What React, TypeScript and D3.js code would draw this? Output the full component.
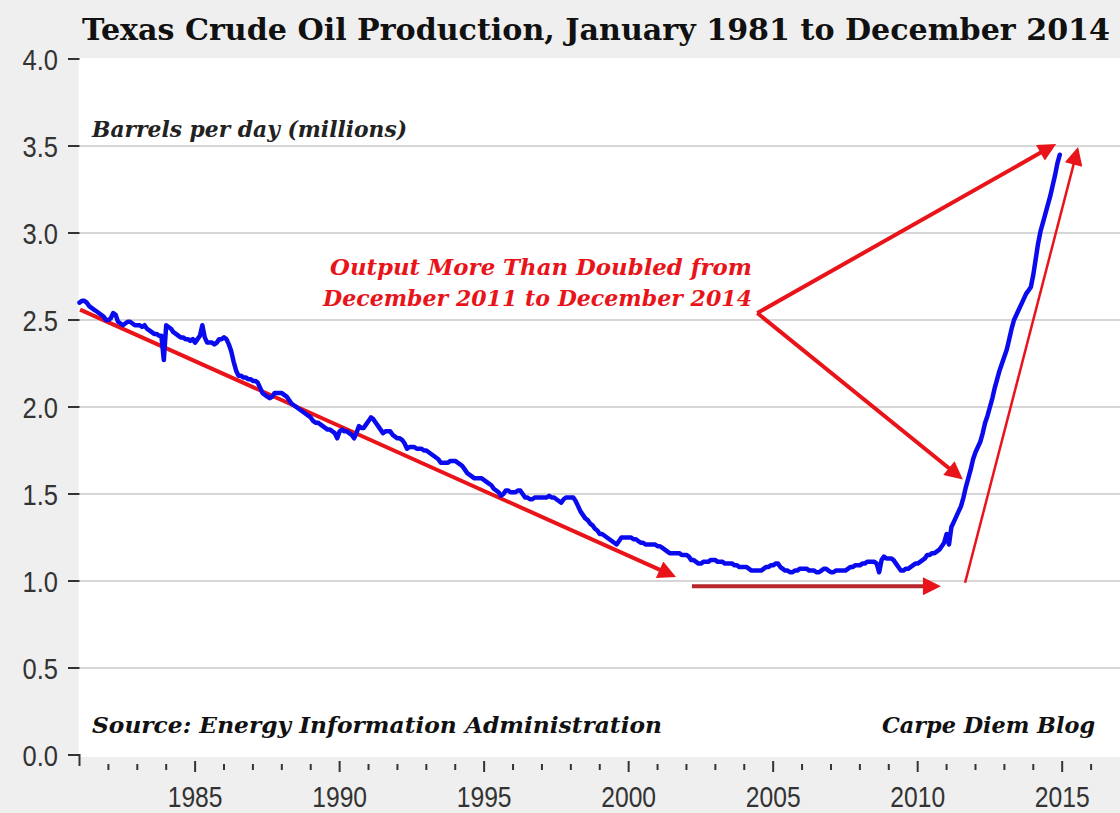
import React from 'react';
import * as d3 from 'd3';

// monthly Texas crude output, millions of barrels per day
const prod1981to1989 = [
  2.60, 2.61, 2.61, 2.60, 2.58, 2.57, 2.56, 2.55, 2.54, 2.53, 2.52, 2.50,
  2.50, 2.51, 2.54, 2.53, 2.49, 2.48, 2.47, 2.48, 2.49, 2.49, 2.48, 2.47,
  2.47, 2.47, 2.46, 2.47, 2.45, 2.44, 2.43, 2.42, 2.42, 2.41, 2.41, 2.27,
  2.47, 2.46, 2.45, 2.43, 2.42, 2.41, 2.40, 2.40, 2.39, 2.39, 2.38, 2.39,
  2.37, 2.39, 2.41, 2.47, 2.40, 2.37, 2.37, 2.37, 2.36, 2.37, 2.39, 2.39,
  2.40, 2.39, 2.36, 2.32, 2.26, 2.21, 2.18, 2.18, 2.17, 2.17, 2.16, 2.16,
  2.15, 2.15, 2.14, 2.11, 2.08, 2.07, 2.06, 2.05, 2.06, 2.08, 2.08, 2.08,
  2.08, 2.07, 2.06, 2.04, 2.02, 2.01, 2.00, 1.99, 1.98, 1.97, 1.96, 1.95,
  1.94, 1.92, 1.91, 1.91, 1.90, 1.89, 1.88, 1.87, 1.87, 1.86, 1.85, 1.82,
];
const prod1990to1999 = [
  1.86, 1.87, 1.86, 1.86, 1.85, 1.84, 1.82, 1.85, 1.89, 1.88, 1.88, 1.90,
  1.92, 1.94, 1.93, 1.91, 1.89, 1.87, 1.85, 1.86, 1.86, 1.86, 1.84, 1.83,
  1.82, 1.82, 1.81, 1.79, 1.76, 1.77, 1.77, 1.77, 1.76, 1.76, 1.76, 1.75,
  1.75, 1.74, 1.73, 1.72, 1.71, 1.70, 1.68, 1.68, 1.68, 1.68, 1.69, 1.69,
  1.69, 1.68, 1.67, 1.66, 1.64, 1.62, 1.61, 1.60, 1.59, 1.59, 1.59, 1.59,
  1.58, 1.57, 1.56, 1.55, 1.53, 1.52, 1.51, 1.49, 1.50, 1.52, 1.52, 1.51,
  1.51, 1.51, 1.52, 1.52, 1.50, 1.48, 1.48, 1.47, 1.47, 1.48, 1.48, 1.48,
  1.48, 1.48, 1.48, 1.49, 1.48, 1.48, 1.47, 1.46, 1.45, 1.47, 1.48, 1.48,
  1.48, 1.48, 1.46, 1.43, 1.40, 1.38, 1.36, 1.35, 1.33, 1.32, 1.30, 1.29,
  1.27, 1.27, 1.26, 1.25, 1.24, 1.23, 1.22, 1.21, 1.23, 1.25, 1.25, 1.25,
];
const prod2000to2009 = [
  1.25, 1.25, 1.24, 1.24, 1.23, 1.22, 1.22, 1.21, 1.21, 1.21, 1.21, 1.21,
  1.20, 1.20, 1.19, 1.18, 1.17, 1.16, 1.16, 1.16, 1.16, 1.16, 1.15, 1.15,
  1.15, 1.14, 1.12, 1.12, 1.11, 1.10, 1.10, 1.11, 1.11, 1.11, 1.12, 1.12,
  1.12, 1.11, 1.11, 1.11, 1.10, 1.10, 1.10, 1.10, 1.09, 1.09, 1.08, 1.08,
  1.08, 1.08, 1.07, 1.06, 1.06, 1.06, 1.06, 1.06, 1.07, 1.08, 1.08, 1.09,
  1.09, 1.10, 1.10, 1.08, 1.07, 1.06, 1.06, 1.05, 1.05, 1.06, 1.06, 1.07,
  1.07, 1.07, 1.07, 1.06, 1.06, 1.06, 1.05, 1.05, 1.06, 1.07, 1.07, 1.06,
  1.05, 1.05, 1.06, 1.06, 1.06, 1.06, 1.06, 1.07, 1.08, 1.08, 1.09, 1.09,
  1.09, 1.10, 1.10, 1.11, 1.11, 1.11, 1.11, 1.10, 1.05, 1.12, 1.14, 1.13,
  1.13, 1.13, 1.12, 1.10, 1.08, 1.06, 1.06, 1.07, 1.07, 1.08, 1.09, 1.10,
];
const prod2010to2014 = [
  1.10, 1.11, 1.12, 1.13, 1.15, 1.15, 1.16, 1.16, 1.17, 1.18, 1.20, 1.22,
  1.27, 1.21, 1.31, 1.34, 1.37, 1.40, 1.43, 1.48, 1.54, 1.59, 1.64, 1.70,
  1.74, 1.77, 1.80, 1.85, 1.91, 1.95, 2.00, 2.05, 2.11, 2.16, 2.21, 2.25,
  2.29, 2.33, 2.39, 2.45, 2.50, 2.53, 2.56, 2.59, 2.62, 2.65, 2.67, 2.69,
  2.76, 2.85, 2.94, 3.01, 3.06, 3.11, 3.16, 3.21, 3.27, 3.33, 3.40, 3.45,
];

const startYear = 1981;
const yTicks = [0, 0.5, 1, 1.5, 2, 2.5, 3, 3.5, 4];
const yearLabels = [1985, 1990, 1995, 2000, 2005, 2010, 2015];
const tickYears = d3.range(1981, 2017);

// annotation arrows: [fromYear, fromValue, toYear, toValue]
const trendArrow = [1981.02, 2.56, 2001.67, 1.02];
const flatArrow = [2002.19, 0.97, 2010.84, 0.97];
const upperArrow = [2004.45, 2.54, 2014.82, 3.515];
const lowerArrow = [2004.45, 2.54, 2011.59, 1.58];
const riseArrow = [2011.64, 0.99, 2015.56, 3.5];

const W = 1120;
const H = 813;
const serif = "'DejaVu Serif', Georgia, serif";
const sans = "'Liberation Sans', Arial, sans-serif";

export default function App() {
  const x = d3.scaleLinear().domain([1981, 2017]).range([79.5, 1120]);
  const y = d3.scaleLinear().domain([0, 4]).range([755, 59]);

  const series = [...prod1981to1989, ...prod1990to1999, ...prod2000to2009, ...prod2010to2014]
    .map((v, i) => ({ t: startYear + i / 12, v }));

  const line = d3.line<{ t: number; v: number }>()
    .x(d => x(d.t))
    .y(d => y(d.v));

  // shorten the shaft so the marker tip lands on the given point
  const arrow = (a: number[], color: string, width: number, key: string) => {
    const x1 = x(a[0]), y1 = y(a[1]), x2 = x(a[2]), y2 = y(a[3]);
    const len = Math.hypot(x2 - x1, y2 - y1);
    const ex = x2 - (x2 - x1) / len * 10;
    const ey = y2 - (y2 - y1) / len * 10;
    return (
      <line key={key} x1={x1} y1={y1} x2={ex} y2={ey} stroke={color}
        strokeWidth={width} markerEnd="url(#head)" />
    );
  };

  return (
    <svg width={W} height={H} style={{ position: 'absolute', left: 0, top: 0 }}>
      <defs>
        <marker id="head" viewBox="0 0 10 10" refX="5" refY="5" markerWidth="20"
          markerHeight="18" markerUnits="userSpaceOnUse" orient="auto">
          <path d="M0,0 L10,5 L0,10 z" fill="#e8141a" />
        </marker>
      </defs>
      <rect width={W} height={H} fill="#efefef" />
      <rect x={x(1981) - 1} y={y(4) - 1} width={W - x(1981) + 1} height={y(0) - y(4) + 3} fill="#ffffff" />

      {yTicks.filter(v => v > 0 && v < 4).map(v => (
        <line key={'g' + v} x1={x(1981)} x2={W} y1={y(v)} y2={y(v)} stroke="#c8c8c8" strokeWidth={1.5} />
      ))}

      {yTicks.map(v => (
        <g key={'y' + v}>
          <line x1={68} x2={x(1981)} y1={y(v)} y2={y(v)} stroke="#333" strokeWidth={2} />
          <text transform={`translate(58,${y(v)}) scale(0.85,1)`} dy="0.36em" textAnchor="end"
            fontFamily={sans} fontSize={30} fill="#333">{v.toFixed(1)}</text>
        </g>
      ))}

      {tickYears.map(yr => {
        const major = yr % 5 === 0;
        const first = yr === 1981;
        return (
          <line key={'t' + yr} x1={x(yr)} x2={x(yr)}
            y1={first ? y(0) - 1 : major ? 761 : 764}
            y2={first ? 766 : major ? 772 : 770}
            stroke="#333" strokeWidth={2} />
        );
      })}
      {yearLabels.map(yr => (
        <text key={'l' + yr} transform={`translate(${x(yr)},807) scale(0.85,1)`} textAnchor="middle"
          fontFamily={sans} fontSize={29} fill="#333">{yr}</text>
      ))}

      <text x={82} y={40} fontFamily={serif} fontWeight="bold" fontSize={30} fill="#111"
        textLength={1028} lengthAdjust="spacingAndGlyphs">
        Texas Crude Oil Production, January 1981 to December 2014
      </text>
      <text x={92} y={137} fontFamily={serif} fontWeight="bold" fontStyle="italic" fontSize={22}
        fill="#222" textLength={315} lengthAdjust="spacingAndGlyphs">
        Barrels per day (millions)
      </text>

      {arrow(trendArrow, '#e8141a', 4, 'a1')}
      {arrow(flatArrow, '#b8272b', 4, 'a2')}
      {arrow(upperArrow, '#e8141a', 4, 'a3')}
      {arrow(lowerArrow, '#e8141a', 4, 'a4')}
      {arrow(riseArrow, '#e8141a', 2.5, 'a5')}

      <path d={line(series) || ''} fill="none" stroke="#0a0aee" strokeWidth={4.5}
        strokeLinejoin="round" strokeLinecap="round" />

      <text x={330} y={275} fontFamily={serif} fontWeight="bold" fontStyle="italic" fontSize={22}
        fill="#e8141a" textLength={422} lengthAdjust="spacingAndGlyphs">
        Output More Than Doubled from
      </text>
      <text x={323} y={306} fontFamily={serif} fontWeight="bold" fontStyle="italic" fontSize={22}
        fill="#e8141a" textLength={429} lengthAdjust="spacingAndGlyphs">
        December 2011 to December 2014
      </text>

      <text x={92} y={733} fontFamily={serif} fontWeight="bold" fontStyle="italic" fontSize={23}
        fill="#111" textLength={570} lengthAdjust="spacingAndGlyphs">
        Source: Energy Information Administration
      </text>
      <text x={882} y={733} fontFamily={serif} fontWeight="bold" fontStyle="italic" fontSize={23}
        fill="#111" textLength={213} lengthAdjust="spacingAndGlyphs">
        Carpe Diem Blog
      </text>
    </svg>
  );
}
